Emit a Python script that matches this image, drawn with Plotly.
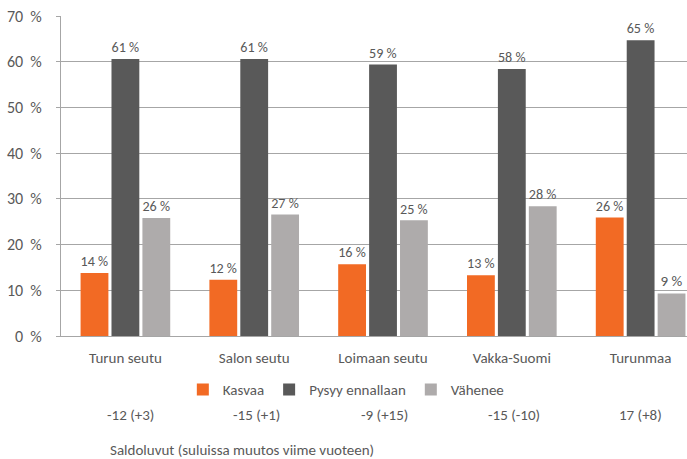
import plotly.graph_objects as go

categories = ["Turun seutu", "Salon seutu", "Loimaan seutu", "Vakka-Suomi", "Turunmaa"]
kasvaa = [13.8, 12.3, 15.7, 13.3, 25.9]
pysyy = [60.6, 60.6, 59.4, 58.4, 64.7]
vahenee = [25.8, 26.6, 25.3, 28.4, 9.3]
saldo_labels = ["-12 (+3)", "-15 (+1)", "-9 (+15)", "-15 (-10)", "17 (+8)"]
y_ticks = [0, 10, 20, 30, 40, 50, 60, 70]
y_ticktext = [f"{v}\u00a0\u00a0%" for v in y_ticks]
footer = "Saldoluvut (suluissa muutos viime vuoteen)"

FONT = "Carlito, Lato, sans-serif"
TXT = "#595959"
FS = 15

series = [
    ("Kasvaa", kasvaa, "#F26A24"),
    ("Pysyy ennallaan", pysyy, "#595959"),
    ("Vähenee", vahenee, "#AEABAB"),
]

fig = go.Figure()
for name, vals, col in series:
    fig.add_trace(go.Bar(
        x=categories, y=vals, name=name, marker_color=col,
        marker_line_width=0,
        texttemplate="%{y:.0f} %", textposition="outside",
        textfont=dict(size=FS, color=TXT, family=FONT),
        cliponaxis=False,
    ))

saldo_shift = [5, 2, 1, 2, 0]
for cat, lab, sh in zip(categories, saldo_labels, saldo_shift):
    fig.add_annotation(x=cat, y=-0.247, xref="x", yref="paper", text=lab,
                       showarrow=False, font=dict(size=FS, color=TXT, family=FONT),
                       xanchor="center", yanchor="middle", xshift=sh)

fig.add_annotation(x=(108 - 61) / 626, y=-0.357, xref="paper", yref="paper", text=footer,
                   showarrow=False, font=dict(size=FS, color=TXT, family=FONT),
                   xanchor="left", yanchor="middle")

fig.update_layout(
    width=687, height=459,
    margin=dict(l=61, r=0, t=16, b=123),
    paper_bgcolor="white", plot_bgcolor="white",
    barmode="group", bargap=0.28, bargroupgap=0.1,
    font=dict(family=FONT, color=TXT, size=FS),
    legend=dict(orientation="h", x=0.455, xanchor="center", y=-0.168, yanchor="middle",
                font=dict(size=FS, color=TXT, family=FONT), itemwidth=30,
                traceorder="normal"),
    showlegend=True,
)
fig.update_xaxes(
    range=[-0.5, 4.36], showline=True, linecolor="#A6A6A6", linewidth=1,
    showgrid=False, ticks="", tickfont=dict(size=FS, color=TXT, family=FONT),
    ticklabelstandoff=8,
)
fig.update_yaxes(
    range=[0, 70], tickvals=y_ticks, ticktext=y_ticktext,
    showgrid=True, gridcolor="#A6A6A6", gridwidth=1,
    showline=True, linecolor="#A6A6A6", linewidth=1,
    ticks="outside", ticklen=4, tickcolor="#A6A6A6",
    zeroline=False, tickfont=dict(size=16, color=TXT, family=FONT),
    ticklabelstandoff=11,
)

fig.write_html("out.html", config={"displayModeBar": False},
               post_script="document.body.style.margin='0';")
